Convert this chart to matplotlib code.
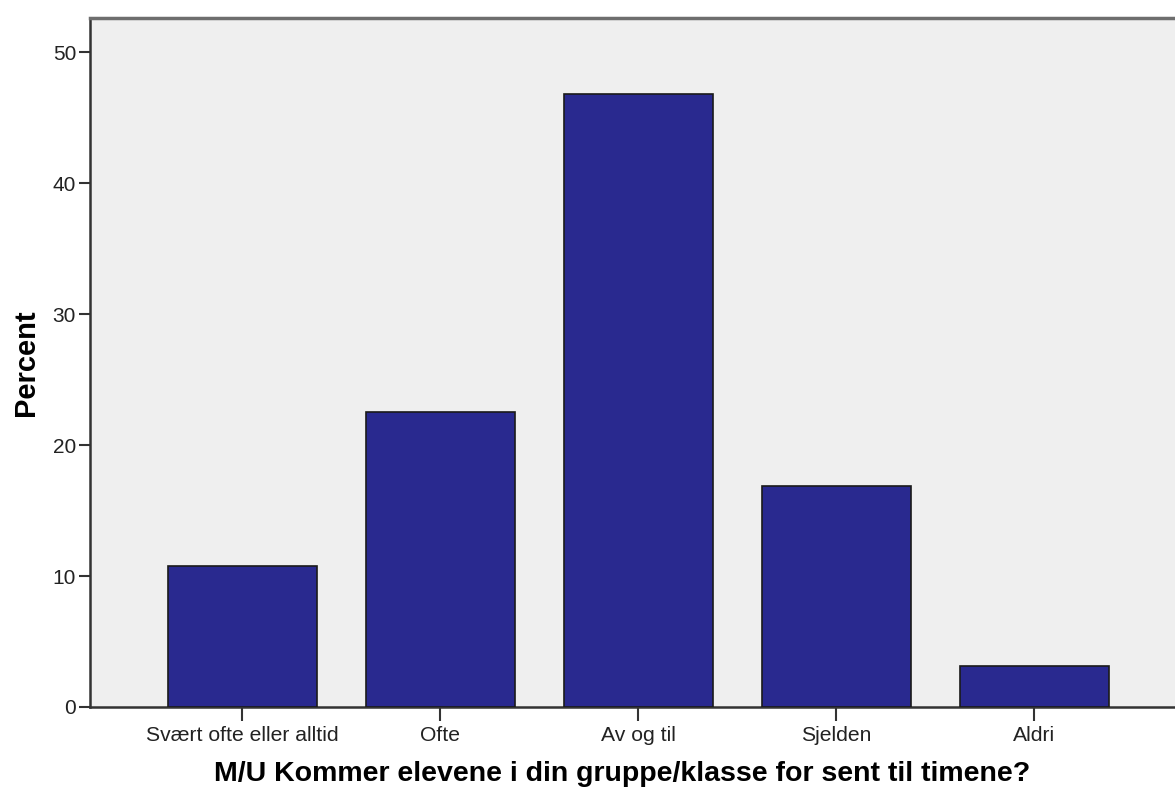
import matplotlib
matplotlib.use("Agg")
import matplotlib.pyplot as plt

categories = ["Svært ofte eller alltid", "Ofte", "Av og til", "Sjelden", "Aldri"]
percent = [10.8, 22.5, 46.8, 16.9, 3.1]

BAR = "#29298f"
BG = "#efefef"

plt.rcParams["font.family"] = ["Liberation Sans", "DejaVu Sans"]

fig = plt.figure(figsize=(11.75, 7.98), dpi=100)
ax = fig.add_axes([90 / 1175, 1 - 707 / 798, 1 - 90 / 1175, (707 - 18) / 798])
ax.set_facecolor(BG)

x = range(len(categories))
ax.bar(x, percent, width=0.755, color=BAR, edgecolor="#1a1a1a", linewidth=1.2, zorder=3)

ax.set_xlim(-0.77, 4.71)
ax.set_ylim(0, 52.6)
ax.set_xticks(list(x))
ax.set_xticklabels(categories)
ax.set_yticks([0, 10, 20, 30, 40, 50])

ax.tick_params(axis="x", length=10, width=1.5, color="#333333", labelsize=15.2,
               labelcolor="#222222", pad=4)
ax.tick_params(axis="y", length=8, width=1.5, color="#333333", labelsize=15,
               labelcolor="#222222", pad=2)

ax.spines["right"].set_visible(False)
for side in ["left", "bottom"]:
    ax.spines[side].set_color("#333333")
    ax.spines[side].set_linewidth(1.8)
ax.spines["top"].set_color("#6e6e6e")
ax.spines["top"].set_linewidth(2.5)

ax.set_ylabel("Percent", fontsize=21, fontweight="bold", labelpad=9)
ax.set_xlabel("M/U Kommer elevene i din gruppe/klasse for sent til timene?",
              fontsize=20.5, fontweight="bold")
ax.xaxis.set_label_coords(0.49, -0.078)

fig.savefig("out.png", dpi=100)
